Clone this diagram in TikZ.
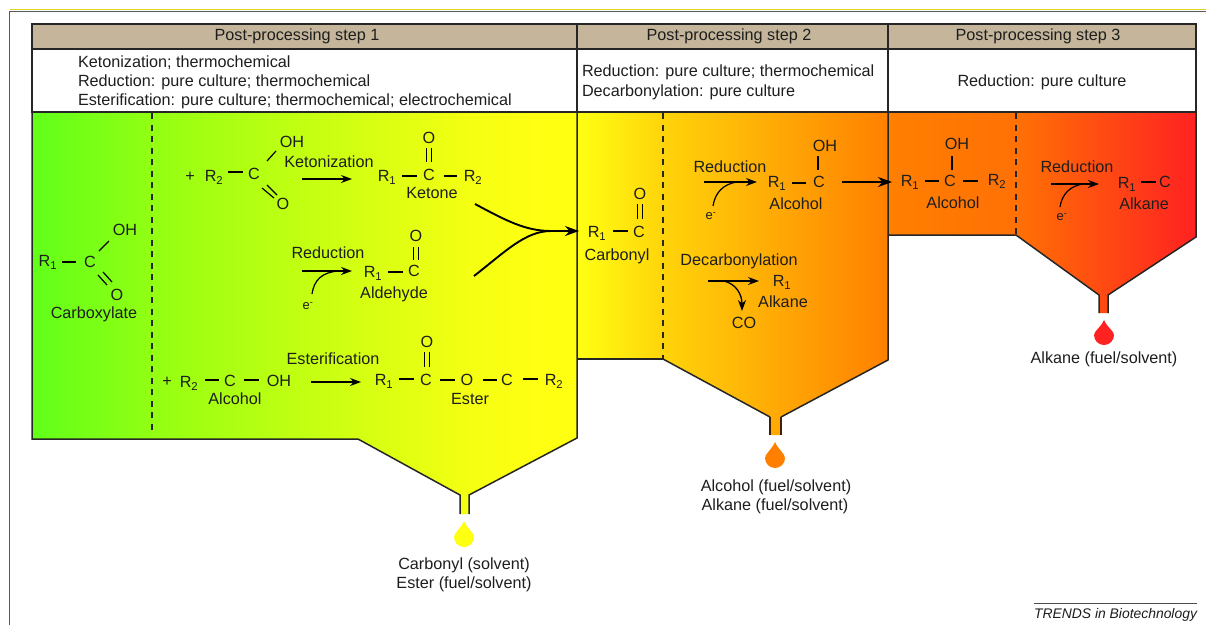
\documentclass[tikz,border=0pt]{standalone}
\usepackage{fontspec}
\setmainfont{Liberation Sans}
\usetikzlibrary{arrows.meta}
\definecolor{hdr}{HTML}{C4B59B}
\definecolor{ink}{HTML}{1E1E1E}
\definecolor{cyellow}{HTML}{FFFF12}
\definecolor{corange}{HTML}{FF8000}
\definecolor{cred}{HTML}{FF2222}
\pgfdeclarehorizontalshading{pone}{100bp}{
  rgb(0bp)=(0.38,1,0.1);
  rgb(25bp)=(0.38,1,0.1);
  rgb(37.7bp)=(0.60,1,0.07);
  rgb(54.2bp)=(0.82,1,0.07);
  rgb(65.2bp)=(0.96,1,0.07);
  rgb(71.6bp)=(1,1,0.07);
  rgb(100bp)=(1,1,0.07)}
\pgfdeclarehorizontalshading{ptwo}{100bp}{
  rgb(0bp)=(1,1,0.07);
  rgb(25bp)=(1,1,0.07);
  rgb(39bp)=(1,0.83,0.04);
  rgb(75bp)=(1,0.5,0);
  rgb(100bp)=(1,0.5,0)}
\pgfdeclarehorizontalshading{pthree}{100bp}{
  rgb(0bp)=(1,0.5,0);
  rgb(25bp)=(1,0.5,0);
  rgb(46bp)=(1,0.44,0.02);
  rgb(75bp)=(1,0.13,0.13);
  rgb(100bp)=(1,0.13,0.13)}
\tikzset{
  lab/.style={inner sep=0pt,outer sep=0pt,text=ink,font=\fontsize{16.2}{19}\selectfont,align=center,text height=11.5pt,text depth=0pt},
  leftlab/.style={lab,anchor=west,align=left},
  bond/.style={draw=black,line width=1.2pt},
  rxn/.style={draw=black,line width=1.3pt,-{Stealth[length=11pt,width=8pt]}},
  edge/.style={draw=black!85,line width=1.5pt},
  dashline/.style={draw=black!85,line width=1.8pt,dash pattern=on 6pt off 5.5pt},
}
\newcommand{\Lb}[4]{\node[lab] (#1) at (#2,#3) {#4};}
\newcommand{\Bd}[4]{\draw[bond] (#1,#2) -- (#3,#4);}
\newcommand{\Rone}{R\textsubscript{1}}
\newcommand{\Rtwo}{R\textsubscript{2}}
\newcommand{\Drop}[5]{% cx top bottom halfwidth colour
  \fill[#5] (#1,#2) .. controls (#1+0.3*#4,#2+0.28*#3-0.28*#2) and (#1+#4,#2+0.45*#3-0.45*#2) .. (#1+#4,#3-#4)
    arc[start angle=0,end angle=180,radius=#4] .. controls (#1-#4,#2+0.45*#3-0.45*#2) and (#1-0.3*#4,#2+0.28*#3-0.28*#2) .. cycle;}
\begin{document}
\begin{tikzpicture}[x=1pt,y=-1pt]
\useasboundingbox (0,0) rectangle (1206,625);
\fill[white] (0,0) rectangle (1206,625);
% page frame
\draw[yellow!85!black,line width=0.7pt] (10,9.6) -- (1206,9.6);
\draw[black!65,line width=1.2pt] (9.5,625) -- (9.5,11.4) -- (1206,11.4);
% panels
\path[shading=pone,shading angle=0] (32,112) -- (577,112) -- (577,438) -- (469,495) -- (469,514) -- (460,514) -- (460,495) -- (358,439) -- (32,439) -- cycle;
\path[shading=ptwo,shading angle=0] (577,112) -- (888,112) -- (888,360) -- (781,417) -- (781,435) -- (770,435) -- (770,417) -- (663,359) -- (577,359) -- cycle;
\path[shading=pthree,shading angle=0] (888,112) -- (1196,112) -- (1196,237) -- (1108,295) -- (1108,313) -- (1099,313) -- (1099,295) -- (1016,235) -- (888,235) -- cycle;
\draw[edge] (460,514) -- (460,495) -- (358,439) -- (32,439) -- (32,112) -- (577,112) -- (577,438) -- (469,495) -- (469,514);
\draw[edge] (663,359) -- (577,359);
\draw[edge] (770,417) -- (663,359);
\draw[edge,draw=black!75!orange] (770,435) -- (770,417);
\draw[edge,draw=black!75!orange] (781,435) -- (781,417);
\draw[edge] (781,417) -- (888,360) -- (888,112) -- (1196,112) -- (1196,237) -- (1108,295) -- (1108,313);
\draw[edge] (888,235) -- (1016,235) -- (1099,295) -- (1099,313);
% header
\fill[hdr] (32,24) rectangle (1196,49);
\fill[white] (32,49) rectangle (1196,112);
\draw[edge] (32,24) rectangle (1196,49);
\draw[edge] (32,49) -- (32,112) -- (1196,112) -- (1196,49);
\draw[edge] (577,24) -- (577,112);
\draw[edge] (888,24) -- (888,112);
% dashed dividers
\draw[dashline] (152,113) -- (152,433);
\draw[dashline] (663,113) -- (663,359);
\draw[dashline] (1016,113) -- (1016,235);
% headings
\Lb{h1}{297}{35}{Post-processing step 1}
\Lb{h2}{729}{35}{Post-processing step 2}
\Lb{h3}{1038}{35}{Post-processing step 3}
\node[leftlab] (m1a) at (78,62) {Ketonization; thermochemical};
\node[leftlab] (m1b) at (78,81) {Reduction: pure culture; thermochemical};
\node[leftlab] (m1c) at (78,100) {Esterification: pure culture; thermochemical; electrochemical};
\node[leftlab] (m2a) at (582,71) {Reduction: pure culture; thermochemical};
\node[leftlab] (m2b) at (582,91) {Decarbonylation: pure culture};
\Lb{m3}{1042}{81}{Reduction: pure culture}
% carboxylate
\Lb{a1}{48}{261}{\Rone}\Lb{a2}{90}{262}{C}\Lb{a3}{125}{230}{OH}\Lb{a4}{117}{295}{O}\Lb{a5}{94}{313}{Carboxylate}
\Bd{62}{262}{76}{262}\Bd{99}{251}{109}{241}\Bd{98}{275}{107}{285}\Bd{103}{272}{112}{282}
% ketonization
\Lb{k0}{190}{176}{+}\Lb{k1}{214}{176}{\Rtwo}\Lb{k2}{254}{174}{C}\Lb{k3}{292}{142}{OH}\Lb{k4}{283}{204}{O}
\Bd{228}{172}{243}{172}\Bd{267}{161}{276}{151}\Bd{262}{188}{274}{198}\Bd{267}{185}{277}{195}
\Lb{k5}{329}{162}{Ketonization}
\coordinate (kA) at (302,179); \coordinate (kB) at (352,179);
\draw[rxn] (kA) -- (kB);
\Lb{k6}{387}{176}{\Rone}\Lb{k7}{429}{175}{C}\Lb{k8}{473}{176}{\Rtwo}\Lb{k9}{429}{138}{O}\Lb{k10}{432}{193}{Ketone}
\Bd{402}{176}{417}{176}\Bd{444}{176}{457}{176}\Bd{426.5}{148}{426.5}{162}\Bd{431.5}{148}{431.5}{162}
% reduction to aldehyde
\Lb{r1}{328}{253}{Reduction}
\coordinate (rA) at (302,271); \coordinate (rB) at (352,271);
\draw[rxn] (rA) -- (rB);
\coordinate (rE) at (312,294); \coordinate (rJ) at (339,271);
\draw[bond] (rE) .. controls (314,280) and (322,272) .. (rJ);
\Lb{r2}{308}{304}{\fontsize{13}{15}\selectfont e\textsuperscript{-}}
\Lb{r3}{373}{272}{\Rone}\Lb{r4}{414}{271}{C}\Lb{r5}{416}{236}{O}\Lb{r6}{394}{293}{Aldehyde}
\Bd{388}{272}{403}{272}\Bd{413.5}{247}{413.5}{260}\Bd{418.5}{247}{418.5}{260}
% esterification
\Lb{e0}{167}{381}{+}\Lb{e1}{189}{382}{\Rtwo}\Lb{e2}{230}{381}{C}\Lb{e3}{279}{381}{OH}\Lb{e4}{235}{399}{Alcohol}
\Bd{205}{380}{219}{380}\Bd{244}{380}{259}{380}
\Lb{e5}{333}{359}{Esterification}
\coordinate (eA) at (311,382); \coordinate (eB) at (361,382);
\draw[rxn] (eA) -- (eB);
\Lb{e6}{384}{380}{\Rone}\Lb{e7}{426}{380}{C}\Lb{e8}{467}{380}{O}\Lb{e9}{507}{380}{C}\Lb{e10}{554}{380}{\Rtwo}\Lb{e11}{427}{342}{O}\Lb{e12}{470}{399}{Ester}
\Bd{399}{379}{414}{379}\Bd{440}{380}{455}{380}\Bd{483}{380}{497}{380}\Bd{523}{379}{538}{379}\Bd{424.5}{352}{424.5}{367}\Bd{429.5}{352}{429.5}{367}
% merge arrows
\coordinate (mA) at (475,204); \coordinate (mB) at (474,276); \coordinate (mJ) at (551,231); \coordinate (mT) at (579,231);
\draw[line width=1.9pt] (mA) .. controls (505,220) and (525,231) .. (mJ);
\draw[line width=1.9pt] (mB) .. controls (505,252) and (525,231) .. (mJ);
\draw[line width=1.9pt,-{Stealth[length=14pt,width=10pt]}] (mJ) -- (mT);
% carbonyl
\Lb{c1}{597}{232}{\Rone}\Lb{c2}{639}{232}{C}\Lb{c3}{640}{194}{O}\Lb{c4}{617}{255}{Carbonyl}
\Bd{613}{231}{628}{231}\Bd{637.5}{204}{637.5}{219}\Bd{642.5}{204}{642.5}{219}
% reduction to alcohol
\Lb{s1}{730}{167}{Reduction}
\coordinate (sA) at (704,182); \coordinate (sB) at (757,182);
\draw[rxn] (sA) -- (sB);
\coordinate (sE) at (713,206); \coordinate (sJ) at (737,182);
\draw[bond] (sE) .. controls (715,193) and (723,184) .. (sJ);
\Lb{s2}{711}{214}{\fontsize{13}{15}\selectfont e\textsuperscript{-}}
\Lb{s3}{777}{182}{\Rone}\Lb{s4}{819}{182}{C}\Lb{s5}{825}{146}{OH}\Lb{s6}{796}{204}{Alcohol}
\Bd{792}{183}{806}{183}\Bd{818}{156}{818}{170}
\coordinate (tA) at (842,182); \coordinate (tB) at (892,182);
\draw[line width=1.8pt,-{Stealth[length=14pt,width=10pt]}] (tA) -- (tB);
% decarbonylation
\Lb{d1}{739}{260}{Decarbonylation}
\coordinate (dA) at (708,281); \coordinate (dB) at (759,281);
\draw[rxn] (dA) -- (dB);
\coordinate (dJ) at (724,281); \coordinate (dC) at (742,311);
\draw[rxn] (dJ) .. controls (736,284) and (742,294) .. (dC);
\Lb{d2}{782}{281}{\Rone}\Lb{d3}{783}{302}{Alkane}\Lb{d4}{744}{323}{CO}
% step 3 alcohol
\Lb{t1}{910}{181}{\Rone}\Lb{t2}{950}{181}{C}\Lb{t3}{997}{180}{\Rtwo}\Lb{t4}{957}{144}{OH}\Lb{t5}{953}{203}{Alcohol}
\Bd{925}{181}{939}{181}\Bd{963}{181}{978}{181}\Bd{952}{156}{952}{170}
% reduction to alkane
\Lb{u1}{1077}{167}{Reduction}
\coordinate (uA) at (1051,184); \coordinate (uB) at (1099,184);
\draw[rxn] (uA) -- (uB);
\coordinate (uE) at (1060,207); \coordinate (uJ) at (1083,184);
\draw[bond] (uE) .. controls (1062,194) and (1070,186) .. (uJ);
\Lb{u2}{1062}{215}{\fontsize{13}{15}\selectfont e\textsuperscript{-}}
\Lb{u3}{1127}{183}{\Rone}\Lb{u4}{1165}{182}{C}\Lb{u5}{1144}{204}{Alkane}
\Bd{1141}{182}{1156}{182}
% drops
\Drop{464}{521}{547}{10}{cyellow}
\Drop{775}{442}{468}{10}{corange}
\Drop{1104}{320}{345}{10}{cred}
% products
\Lb{p1}{464}{564}{Carbonyl (solvent)}\Lb{p2}{464}{583}{Ester (fuel/solvent)}
\Lb{p3}{776}{486}{Alcohol (fuel/solvent)}\Lb{p4}{775}{505}{Alkane (fuel/solvent)}
\Lb{p5}{1104}{358}{Alkane (fuel/solvent)}
% credit
\coordinate (cA) at (1034,603); \coordinate (cB) at (1197,603);
\draw[black!70,line width=1pt] (cA) -- (cB);
\node[lab,font=\fontsize{13.9}{16}\selectfont\itshape,text height=10pt] (cr) at (1115.5,613) {TRENDS in Biotechnology};
\end{tikzpicture}
\end{document}
